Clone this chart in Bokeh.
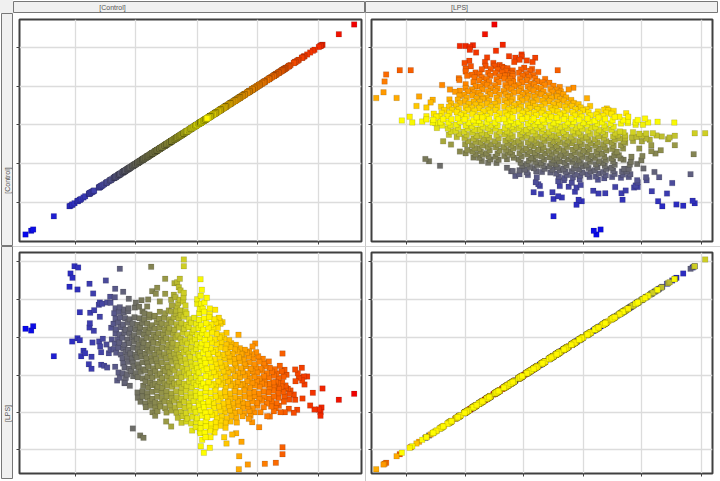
import numpy as np
from bokeh.embed import file_html
from bokeh.layouts import column, row
from bokeh.models import ColumnDataSource, Div, FixedTicker, Label, LinearColorMapper, Range1d
from bokeh.plotting import figure
from bokeh.resources import INLINE
from bokeh.transform import transform

far_low = [(75,265),(92,270),(98,257),(160,347),(222,77),(233,81),(210,99),(216,112),(207,139),(231,147),(267,130),(278,159),(316,120),(238,215),(269,217),(281,209),(298,229),(268,248),(267,261),(280,271),(215,303),(231,293),(238,299),(276,306),(296,303),(307,295),(299,318),(334,297),(318,312),(330,327),(249,331),(254,338),(242,347),(273,349),(302,335),(325,338),(265,371),(273,385),(302,373),(311,376),(320,381),(344,379),(358,85),(344,145),(368,154),(329,169),(343,170),(298,186),(295,193),(305,190),(320,186),(330,187),(385,175),(350,420),(358,412),(367,398),(380,402),(373,425),(388,436),(397,564),(419,585),(429,592)]
top_spikes = [(452,79),(494,115),(538,115),(522,128),(530,125),(535,140),(470,142),(455,152),(466,160),(494,160),(540,150),(550,157),(549,170),(525,170),(512,178),(538,178),(478,183),(443,177),(423,179),(406,187),(403,201),(440,198),(416,199),(426,213),(514,195),(505,210),(530,197),(555,195),(540,210),(555,213),(527,210),(550,57),(550,77),(600,116),(604,148),(601,166),(619,172),(590,190),(602,190),(644,208),(598,205),(607,205),(658,242),(666,245),(660,250),(714,283),(764,309),(756,318),(746,333),(722,340),(345,203),(358,200),(372,207),(384,203),(548,183),(533,188),(520,163),(612,186),(628,204),(590,176)]
low_spikes = [(497,543),(512,558),(575,570),(600,578),(630,590),(605,598),(615,590),(601,617),(628,622),(610,637),(671,590),(695,582),(707,578),(678,609),(723,604),(716,647),(715,686),(742,672),(793,670),(826,667),(846,641),(846,620),(776,560),(745,535),(755,545)]
far_high = [(846,339),(838,376),(852,388),(884,387),(904,382),(892,398),(885,422),(895,412),(910,408),(920,408),(905,420),(912,432),(937,457),(966,444),(1061,460),(1015,478),(906,474),(870,450),(880,462),(884,478),(866,477),(929,495),(942,507),(955,507),(963,501),(960,515),(960,526),(880,517),(890,508),(865,505),(850,484),(835,496),(853,515),(840,515),(820,512),(808,528),(800,527),(780,515),(826,425),(845,425),(855,435),(862,445),(835,445),(820,440)]
upper_cloud = [
(341,218),(356,214),(370,216),(383,212),(432,219),(447,222),(463,226),(478,214),(494,218),(512,213),(526,220),(541,224),(558,220),(596,218),(611,214),(628,221),
(345,235),(359,230),(374,233),(388,236),(402,230),(417,233),(431,236),(446,231),(461,229),(476,235),(491,232),(506,236),(520,230),(535,233),(550,229),(566,236),(581,232),(596,238),(611,234),(626,230),(641,236),(655,232),
(339,250),(353,247),(368,252),(382,246),(397,249),(411,253),(425,247),(440,250),(455,254),(469,246),(484,249),(499,252),(513,246),(528,251),(543,248),(558,253),(572,247),(587,250),(602,254),(617,248),(632,252),(646,246),
(332,262),(347,266),(361,260),(376,268),(390,263),(405,266),(419,260),(434,268),(449,262),(463,265),(478,260),(492,267),(507,263),(522,268),(536,261),(551,265),(565,260),(580,267),(595,263),(609,268),(624,261),(638,265),(652,262),
(345,278),(358,282),(372,276),(387,280),(401,284),(416,277),(430,281),(445,275),(459,283),(474,278),(488,282),(503,276),(518,280),(532,284),(547,277),(561,281),(576,275),(590,283),(605,278),(619,282),(634,276),(648,280),(663,284),(678,277),
(352,296),(366,292),(381,298),(395,291),(410,295),(424,299),(439,292),(453,296),(468,290),(482,298),(497,293),(512,297),(526,291),(541,295),(555,299),(570,292),(584,296),(599,290),(613,298),(628,293),(642,297),(657,291),(671,295),(686,299),
(343,310),(357,306),(372,312),(386,308),(401,304),(415,311),(430,307),(444,313),(459,306),(473,310),(488,304),(503,312),(517,308),(532,313),(546,306),(561,310),(575,304),(590,312),(604,308),(619,313),(633,306),(648,310),(662,305),(677,312),(692,308),(706,313),
(340,326),(354,321),(369,324),(383,328),(398,322),(412,326),(427,320),(441,327),(456,323),(470,328),(485,321),(500,325),(514,320),(529,327),(543,323),(558,328),(572,321),(587,325),(601,320),(616,327),(630,323),(645,328),(659,321),(674,325),(689,320),(703,327),(718,323),(733,328),
(347,337),(361,342),(376,335),(390,339),(405,343),(419,336),(434,340),(448,334),(463,342),(477,337),(492,341),(507,335),(521,339),(536,343),(550,336),(565,340),(579,334),(594,342),(608,337),(623,341),(637,335),(652,339),(666,343),(681,336),(696,340),(710,334),(725,342),(739,337),(754,341),(767,335),
(366,353),(380,349),(395,355),(409,351),(424,347),(438,354),(453,350),(467,356),(482,349),(497,353),(511,347),(526,355),(540,351),(555,356),(569,349),(584,353),(598,347),(613,355),(627,351),(642,356),(656,349),(671,353),(686,347),(700,355),(715,351),(729,356),(744,349),(758,353),(773,347),(787,355),
]
middle_cloud = [
(368,369),(383,364),(397,367),(412,371),(426,365),(441,369),(455,363),(470,370),(484,366),(499,371),(514,364),(528,368),(543,363),(557,370),(572,366),(586,371),(601,364),(615,368),(630,363),(645,370),(659,366),(674,371),(688,364),(703,368),(717,363),(732,370),(746,366),(761,371),(776,364),(790,368),(805,363),
(372,380),(386,385),(401,378),(415,382),(430,386),(444,379),(459,383),(473,377),(488,385),(503,380),(517,384),(532,378),(546,382),(561,386),(575,379),(590,383),(604,377),(619,385),(634,380),(648,384),(663,378),(677,382),(692,386),(706,379),(721,383),(735,377),(750,385),(765,380),(779,384),(794,378),(808,382),(823,386),
(354,396),(392,392),(406,398),(421,394),(435,390),(450,397),(464,393),(479,399),(494,392),(508,396),(523,390),(537,398),(552,394),(566,399),(581,392),(595,396),(610,390),(624,398),(639,394),(654,399),(668,392),(683,396),(697,390),(712,398),(726,394),(741,399),(755,392),(770,396),(784,390),(799,398),(814,394),(828,399),(843,392),
(376,412),(398,407),(412,410),(427,414),(441,408),(456,412),(470,406),(485,413),(500,409),(514,414),(529,407),(543,411),(558,406),(572,413),(587,409),(601,414),(616,407),(630,411),(645,406),(660,413),(674,409),(689,414),(703,407),(718,411),(732,406),(747,413),(761,409),(776,414),(790,407),(805,411),(820,406),(834,413),(849,409),(858,403),
(372,428),(435,423),(449,426),(464,430),(478,424),(493,428),(507,422),(522,429),(536,425),(551,430),(566,423),(580,427),(595,422),(609,429),(624,425),(638,430),(653,423),(667,427),(682,422),(697,429),(711,425),(726,430),(740,423),(755,427),(769,422),(784,429),(792,424),(805,430),(818,425),(832,428),
(428,436),(443,441),(457,434),(472,438),(486,442),(501,435),(515,439),(530,433),(544,441),(559,436),(574,440),(588,434),(603,438),(617,442),(632,435),(646,439),(661,433),(675,441),(690,436),(705,440),(719,434),(734,438),(748,442),(763,435),(777,439),(792,433),(806,441),(821,436),(842,438),(856,442),
(411,456),(426,452),(440,458),(455,454),(469,450),(484,457),(498,453),(513,459),(527,452),(542,456),(557,450),(571,458),(586,454),(600,459),(615,452),(629,456),(644,450),(658,458),(673,454),(688,459),(702,452),(717,456),(731,450),(746,458),(760,454),(775,459),(789,452),(804,456),(818,450),(833,458),(848,454),(866,460),
]
lower_cloud = [
(412,472),(427,468),(441,471),(456,475),(470,469),(485,473),(499,467),(514,474),(529,470),(543,475),(558,468),(572,472),(587,467),(601,474),(616,470),(630,475),(645,468),(660,472),(674,467),(689,474),(703,470),(718,475),(732,468),(747,472),(761,467),(776,474),(791,470),(805,475),(820,468),(834,472),(852,467),
(420,484),(435,489),(449,482),(464,486),(478,490),(493,483),(507,487),(522,481),(537,489),(551,484),(566,488),(580,482),(595,486),(609,490),(624,483),(638,487),(653,481),(668,489),(682,484),(697,488),(711,482),(726,486),(740,490),(755,483),(769,487),(784,481),(799,489),(813,484),(828,488),
(436,500),(451,496),(465,502),(480,498),(494,503),(509,496),(524,500),(538,494),(553,502),(567,498),(582,503),(596,496),(611,500),(625,494),(640,502),(655,498),(669,503),(684,496),(698,500),(713,494),(727,502),(742,498),(756,503),(771,496),(790,500),(812,498),(825,503),
(456,515),(471,512),(498,516),(513,510),(528,517),(542,513),(557,518),(571,511),(586,515),(600,509),(615,517),(629,513),(644,518),(659,511),(673,515),(688,509),(702,517),(717,513),(731,518),(746,511),(762,515),
(464,526),(532,532),(547,527),(561,534),(576,529),(590,533),(605,526),(620,530),(634,524),(649,532),(663,528),(678,533),(692,526),(707,530),(726,527),(750,526),
(543,547),(558,543),(572,549),(587,544),(601,548),(616,542),(630,550),(645,546),(660,541),(675,547),(690,543),(709,546),
(586,560),(601,563),(616,558),(630,565),(645,561),(659,556),(675,562),(598,573),(613,577),(628,571),(642,576),
]

control_ticks = [225, 406, 590, 771, 953]
lps_ticks = [636, 522, 410, 295, 184, 72]
strip_labels = ["[Control]", "[LPS]"]

pairs = far_low + top_spikes + low_spikes + far_high + upper_cloud + middle_cloud + lower_cloud
control = np.array([c for c, _ in pairs], dtype=float)
lps = 700.0 - np.array([d for _, d in pairs], dtype=float)
order = np.argsort(-np.abs(control - 620), kind="stable")
source = ColumnDataSource(dict(control=control[order], lps=lps[order]))

# colour ramp stops: position along Control and colour
stop_at = [75, 300, 345, 420, 500, 560, 610, 640, 700, 790, 880, 1060]
stop_rgb = [(8,8,235),(68,68,165),(90,90,135),(118,118,92),(155,155,68),(215,215,30),(255,255,0),(255,235,0),(255,180,0),(255,128,0),(244,74,0),(240,0,0)]
grid_at = np.linspace(75, 1062, 256)
palette = ["#%02x%02x%02x" % tuple(int(round(np.interp(g, stop_at, [s[i] for s in stop_rgb]))) for i in range(3)) for g in grid_at]
mapper = LinearColorMapper(palette=palette, low=75, high=1062)

C_X = (57, 1083)
C_Y = (42, 1084)
L_Y = (1, 664)
L_X = (5, 657)
DARK = "#404040"


def panel(xf, yf, xr, yr, xt, yt, w, h, left, right, top, bottom):
    p = figure(width=w, height=h, x_range=Range1d(*xr), y_range=Range1d(*yr),
               output_backend="svg", toolbar_location=None,
               min_border_left=left, min_border_right=right, min_border_top=top, min_border_bottom=bottom,
               border_fill_color="white", background_fill_color="white",
               outline_line_color=DARK, outline_line_width=2)
    p.scatter(xf, yf, source=source, marker="square", size=5.5,
              fill_color=transform("control", mapper), line_color="#000000", line_alpha=0.12, line_width=1)
    for ax, ticks in ((p.xaxis[0], xt), (p.yaxis[0], yt)):
        ax.ticker = FixedTicker(ticks=ticks)
        ax.major_label_overrides = {t: "" for t in ticks}
        ax.major_label_standoff = 0
        ax.major_label_text_font_size = "1px"
        ax.major_tick_in = 0
        ax.major_tick_out = 3
        ax.major_tick_line_color = DARK
        ax.major_tick_line_width = 1
        ax.minor_tick_line_color = None
        ax.axis_line_color = None
    p.xgrid[0].ticker = FixedTicker(ticks=xt)
    p.ygrid[0].ticker = FixedTicker(ticks=yt)
    p.grid.grid_line_color = "#dcdcdc"
    p.grid.grid_line_width = 1.3
    return p


def strip(w, h, margin, label=None, x=0, y=0, vertical=False):
    p = figure(width=w, height=h, x_range=Range1d(0, w), y_range=Range1d(h, 0), margin=margin,
               x_axis_type=None, y_axis_type=None, output_backend="svg", toolbar_location=None,
               min_border=0, border_fill_color="#f0f0f0", background_fill_color="#f0f0f0",
               outline_line_color="#777777", outline_line_width=1)
    p.grid.visible = False
    if label:
        p.add_layout(Label(x=x, y=y, text=label, text_font="Liberation Sans", text_font_size="7px",
                           text_color="#555555", text_align="center", text_baseline="middle",
                           angle=np.pi / 2 if vertical else 0))
    return p


tl = panel("control", "control", C_X, C_Y, control_ticks, control_ticks, 352, 233, 6, 4, 6, 5)
tr = panel("lps", "control", L_X, C_Y, lps_ticks, control_ticks, 354, 233, 5, 8, 6, 5)
bl = panel("control", "lps", C_X, L_Y, control_ticks, lps_ticks, 352, 234, 6, 4, 5, 8)
br = panel("lps", "lps", L_X, L_Y, lps_ticks, lps_ticks, 354, 234, 5, 8, 5, 8)

vline_a = Div(width=1, height=233, margin=0, styles={"background": "#c8c8c8"})
vline_b = Div(width=1, height=234, margin=0, styles={"background": "#c8c8c8"})
hline = Div(width=707, height=1, margin=0, styles={"background": "#d4d4d4"})
corner = Div(width=13, height=13, margin=0, styles={"background": "#f0f0f0"})

header = row(corner, strip(352, 12, (1, 0, 0, 0), strip_labels[0], 99, 6),
             strip(353, 12, (1, 0, 0, 0), strip_labels[1], 94, 6), spacing=0)
side = column(strip(12, 233, (0, 0, 0, 1), strip_labels[0], 6, 167, True),
              strip(12, 233, (0, 0, 0, 1), strip_labels[1], 6, 167, True), spacing=0)
grid = column(row(tl, vline_a, tr, spacing=0), hline, row(bl, vline_b, br, spacing=0), spacing=0)
page = column(header, row(side, grid, spacing=0), spacing=0)

open("out.html", "w").write(file_html(page, INLINE))
